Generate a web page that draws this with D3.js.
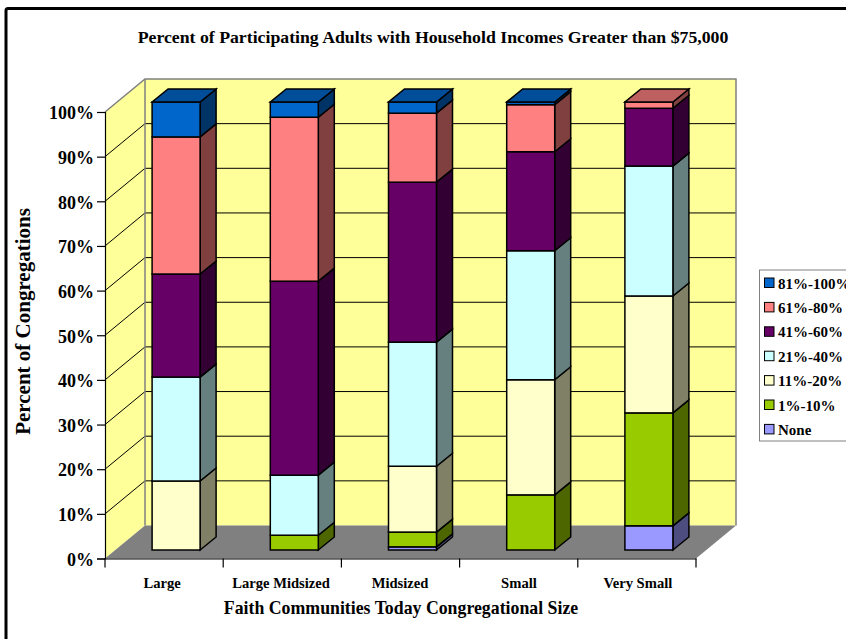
<!DOCTYPE html>
<html>
<head>
<meta charset="utf-8">
<script src="https://d3js.org/d3.v7.min.js"></script>
<style>
  html, body { margin: 0; padding: 0; background: #fff; overflow: hidden; }
  svg { display: block; }
  text { font-family: "Liberation Serif", serif; font-weight: bold; fill: #000; }
</style>
</head>
<body>
<div id="grafik"></div>
<script>
const sizes = ["Large", "Large Midsized", "Midsized", "Small", "Very Small"];
const bands = ["None", "1%-10%", "11%-20%", "21%-40%", "41%-60%", "61%-80%", "81%-100%"];
const none = [0, 0, 0.7, 0, 5.4];
const pct1to10 = [0, 3.3, 3.3, 12.3, 25.2];
const pct11to20 = [15.4, 0, 14.7, 25.7, 26.1];
const pct21to40 = [23.2, 13.4, 27.7, 28.8, 29];
const pct41to60 = [23, 43.3, 35.7, 22.1, 12.9];
const pct61to80 = [30.6, 36.6, 15.4, 10.5, 1.4];
const pct81to100 = [7.8, 3.4, 2.5, 0.6, 0];
const yTicks = [0, 10, 20, 30, 40, 50, 60, 70, 80, 90, 100];
const bandColors = ["#9999ff", "#99cc00", "#ffffcc", "#ccffff", "#660066", "#ff8080", "#0066cc"];

const rows = sizes.map((s, i) => ({
  size: s,
  "None": none[i],
  "1%-10%": pct1to10[i],
  "11%-20%": pct11to20[i],
  "21%-40%": pct21to40[i],
  "41%-60%": pct41to60[i],
  "61%-80%": pct61to80[i],
  "81%-100%": pct81to100[i]
}));

const svg = d3.select("#grafik").append("svg").attr("width", 846).attr("height", 639);

// outer frame, runs off the right and bottom of the page
svg.append("rect").attr("x", 6).attr("y", 8.5).attr("width", 900).attr("height", 700)
  .attr("rx", 2).attr("fill", "#fff").attr("stroke", "#000").attr("stroke-width", 3);

svg.append("text").attr("x", 433).attr("y", 43).attr("text-anchor", "middle")
  .style("font-size", "17.75px").text("Percent of Participating Adults with Household Incomes Greater than $75,000");

// 3d box
const x = d3.scaleBand().domain(sizes).range([105, 696]);
const y = d3.scaleLinear().domain([0, 100]).range([558.5, 112]);
const depthX = 40, depthY = -33;

const line = pts => "M" + pts.map(p => p.join(",")).join("L") + "Z";
const left = x.range()[0], right = x.range()[1];

// side wall, back wall, floor
svg.append("path")
  .attr("d", line([[left, y(0)], [left + depthX, y(0) + depthY], [left + depthX, y(100) + depthY], [left, y(100)]]))
  .attr("fill", "#ffff99");
svg.append("rect").attr("x", left + depthX).attr("y", y(100) + depthY)
  .attr("width", right - left).attr("height", y(0) - y(100))
  .attr("fill", "#ffff99");
svg.append("path")
  .attr("d", line([[left, y(0)], [right, y(0)], [right + depthX, y(0) + depthY], [left + depthX, y(0) + depthY]]))
  .attr("fill", "#808080");

// gridlines
yTicks.slice(1, -1).forEach(t => {
  svg.append("path").attr("fill", "none").attr("stroke", "#000").attr("stroke-width", 1)
    .attr("d", `M${left},${y(t)}L${left + depthX},${y(t) + depthY}L${right + depthX},${y(t) + depthY}`);
});

// wall edges
svg.append("path").attr("fill", "none").attr("stroke", "#808080").attr("stroke-width", 1.5)
  .attr("d", `M${left},${y(100)}L${left + depthX},${y(100) + depthY}L${right + depthX},${y(100) + depthY}L${right + depthX},${y(0) + depthY}`);
svg.append("path").attr("fill", "none").attr("stroke", "#808080").attr("stroke-width", 1.5)
  .attr("d", `M${left + depthX},${y(100) + depthY}L${left + depthX},${y(0) + depthY}`);

// bars
const barY = d3.scaleLinear().domain([0, 100]).range([550, 102]);
const barW = 48, barDx = 16, barDy = -13;
const stacked = d3.stack().keys(bands)(rows);

stacked.forEach((layer, k) => {
  const base = d3.color(bandColors[k]);
  const dark = d3.rgb(base.r * 0.5, base.g * 0.5, base.b * 0.5);
  const topShade = d3.rgb(base.r * 0.75, base.g * 0.75, base.b * 0.75);
  const g = svg.append("g").attr("class", "layer");
  layer.forEach(d => {
    if (d[1] - d[0] <= 0) return;
    const x0 = x(d.data.size) + x.bandwidth() / 2 - barW / 2 + 12;
    const x1 = x0 + barW;
    const y0 = barY(d[0]), y1 = barY(d[1]);
    g.append("path").attr("d", line([[x1, y0], [x1 + barDx, y0 + barDy], [x1 + barDx, y1 + barDy], [x1, y1]]))
      .attr("fill", dark).attr("stroke", "#000").attr("stroke-width", 1.5);
    g.append("rect").attr("x", x0).attr("y", y1).attr("width", barW).attr("height", y0 - y1)
      .attr("fill", base).attr("stroke", "#000").attr("stroke-width", 1.5);
    if (d[1] >= 99.9) {
      g.append("path").attr("d", line([[x0, y1], [x1, y1], [x1 + barDx, y1 + barDy], [x0 + barDx, y1 + barDy]]))
        .attr("fill", topShade).attr("stroke", "#000").attr("stroke-width", 1.5);
    }
  });
});

// axes
const yAxis = svg.append("g").attr("transform", `translate(${left},0)`)
  .call(d3.axisLeft(y).tickValues(yTicks).tickFormat(d => d + "%").tickSize(8).tickPadding(3));
yAxis.selectAll("text").style("font-size", "18px").style("font-family", '"Liberation Serif", serif').attr("y", 1);
yAxis.selectAll("line, path").attr("stroke", "#000").attr("stroke-width", 1.2);

const xAxis = svg.append("g").attr("transform", `translate(0,${y(0)})`)
  .call(d3.axisBottom(x).tickSize(0).tickPadding(19));
xAxis.selectAll("text").style("font-size", "14.6px").style("font-family", '"Liberation Serif", serif')
  .attr("dx", (d, i) => -2 + i * 0.75);
xAxis.selectAll("line").remove();
xAxis.select("path").attr("stroke", "#000").attr("stroke-width", 1.2);
xAxis.append("g").selectAll("line").data(sizes.concat("end")).enter().append("line")
  .attr("x1", d => d === "end" ? right : x(d)).attr("x2", d => d === "end" ? right : x(d))
  .attr("y1", 0).attr("y2", 9).attr("stroke", "#000").attr("stroke-width", 1.2);

svg.append("text").attr("x", 401).attr("y", 614).attr("text-anchor", "middle")
  .style("font-size", "17.8px").text("Faith Communities Today Congregational Size");
svg.append("text").attr("transform", "translate(30,321.5) rotate(-90)").attr("text-anchor", "middle")
  .style("font-size", "21px").text("Percent of Congregations");

// legend
svg.append("rect").attr("x", 759.5).attr("y", 270).attr("width", 120).attr("height", 171)
  .attr("fill", "#fff").attr("stroke", "#808080").attr("stroke-width", 1);
const legend = svg.append("g").selectAll("g").data(bands.slice().reverse()).enter().append("g")
  .attr("transform", (d, i) => `translate(764.5,${283 + i * 24.4})`);
legend.append("rect").attr("y", -5).attr("width", 9.5).attr("height", 9.5)
  .attr("fill", (d, i) => bandColors[bandColors.length - 1 - i]).attr("stroke", "#000");
legend.append("text").attr("x", 13.5).attr("y", 5.5).style("font-size", "15px").text(d => d);
</script>
</body>
</html>
